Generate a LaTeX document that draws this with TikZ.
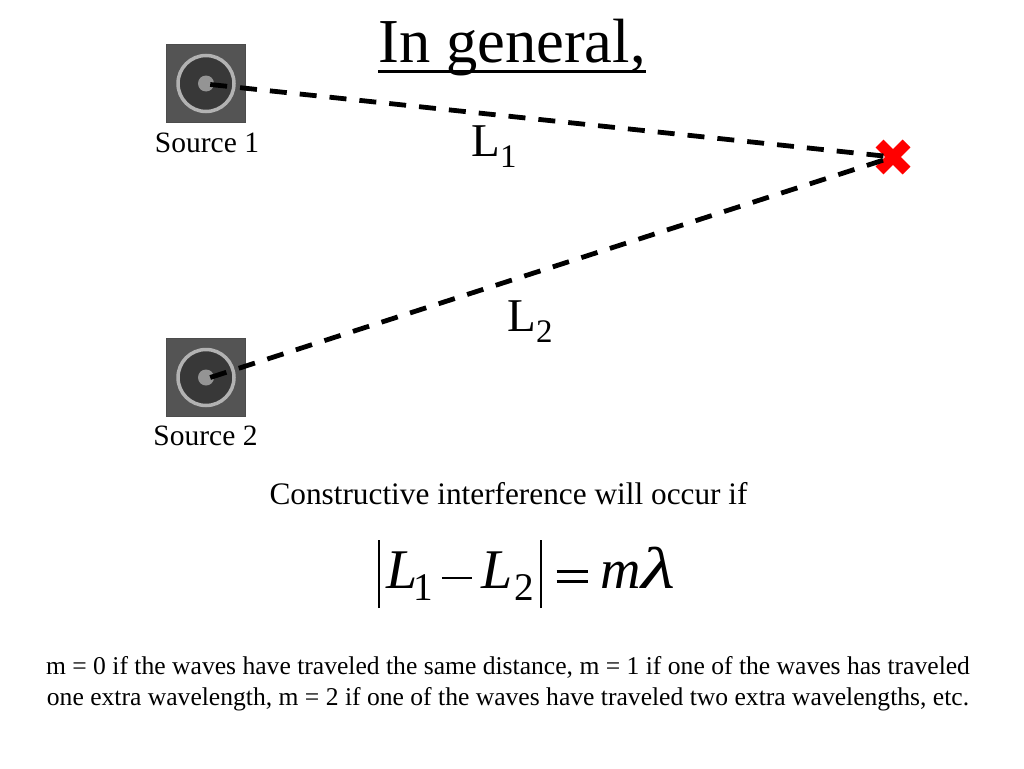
\documentclass[tikz,border=0pt]{standalone}
\usepackage{fontspec}
\setmainfont{Liberation Serif}
\usetikzlibrary{positioning, shapes.misc}

\newcommand{\subnum}[1]{\raisebox{-0.23em}{\fontsize{0.7em}{0.7em}\selectfont #1}}
\newcommand{\absbar}{\rule[-20pt]{2pt}{68pt}}

\begin{document}
\begin{tikzpicture}[x=1pt, y=-1pt,
	src/.style={rectangle, draw=black!70, fill=black!67, minimum width=79pt, minimum height=78pt, inner sep=0pt},
	cone/.style={circle, fill=black!78, draw=black!30, line width=3.5pt, minimum width=56pt, inner sep=0pt},
	tip/.style={circle, fill=black!42, minimum width=16pt, inner sep=0pt},
	path/.style={draw, line width=4.8pt, dash pattern=on 17pt off 13pt},
	lab/.style={inner sep=0pt, font=\fontsize{29.5}{29.5}\selectfont},
	len/.style={inner sep=0pt, font=\fontsize{47}{47}\selectfont},
	]
	\useasboundingbox (0,0) rectangle (1024,768);

	\node[inner sep=0pt, anchor=base, font=\fontsize{62.5}{62.5}\selectfont] (title) at (512,63) {In general,};
	\draw[line width=3pt] ([yshift=-8pt]title.base west) -- ([yshift=-8pt]title.base east);

	\node[src] (box1) at (206,83.5) {};
	\node[cone] (cone1) at (box1.center) {};
	\node[tip] (tip1) at (box1.center) {};
	\node[lab] (name1) at (207,143) {Source 1};

	\node[src] (box2) at (206,377.5) {};
	\node[cone] (cone2) at (box2.center) {};
	\node[tip] (tip2) at (box2.center) {};
	\node[lab] (name2) at (205.5,436) {Source 2};

	\node[cross out, draw=red, line width=11pt, minimum size=16pt, inner sep=0pt] (spot) at (893,157) {};

	\draw[path] ([xshift=-4pt, yshift=-1pt]tip1.east) -- (spot.center);
	\draw[path] ([xshift=-4pt]tip2.east) -- (spot.center);

	\node[len] (len1) at (494,147) {L\subnum{1}};
	\node[len] (len2) at (530,322) {L\subnum{2}};

	\node[inner sep=0pt, font=\fontsize{31.3}{31.3}\selectfont] (cond) at (508.5,494) {Constructive interference will occur if};

	\node[inner sep=0pt, anchor=base west, font=\fontsize{56}{56}\selectfont] (eqn) at (378,588) {\absbar\kern6pt\textit{L}\kern-4pt\subnum{1}\kern9pt\raisebox{0.16em}{\rule{30pt}{2pt}}\kern10pt\textit{L}\kern1pt\subnum{2}\kern6pt\absbar\kern15pt\raisebox{0.09em}{\rlap{\raisebox{10pt}{\rule{31pt}{2.8pt}}}\rule{31pt}{2.8pt}}\kern13pt\textit{m}\scalebox{1.4}[1.05]{\textit{λ}}};

	\node[inner sep=0pt, align=center, font=\fontsize{25.6}{31}\selectfont] (note) at (508,683.5) {m = 0 if the waves have traveled the same distance, m = 1 if one of the waves has traveled\\one extra wavelength, m = 2 if one of the waves have traveled two extra wavelengths, etc.};
\end{tikzpicture}
\end{document}
